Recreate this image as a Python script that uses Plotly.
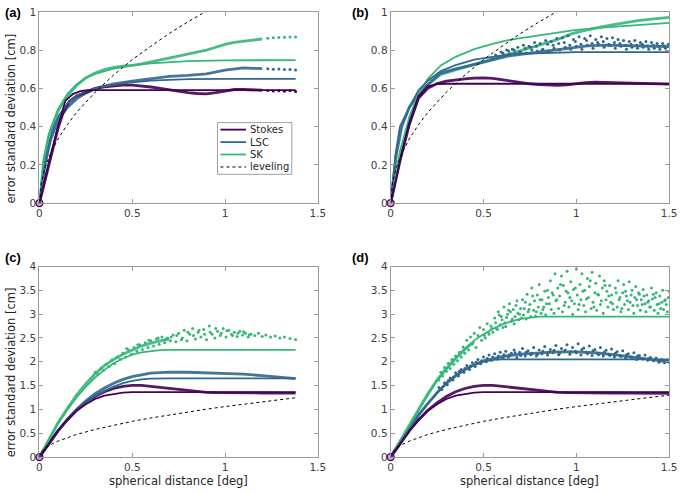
import plotly.graph_objects as go

# ---------------- tick labels / categories ----------------
x_ticks = [0, 0.5, 1, 1.5]
x_tick_labels = ["0", "0.5", "1", "1.5"]
y_ticks_top = [0, 0.2, 0.4, 0.6, 0.8, 1]
y_tick_labels_top = ["0", "0.2", "0.4", "0.6", "0.8", "1"]
y_ticks_bottom = [0, 0.5, 1, 1.5, 2, 2.5, 3, 3.5, 4]
y_tick_labels_bottom = ["0", "0.5", "1", "1.5", "2", "2.5", "3", "3.5", "4"]
methods = ["Stokes", "LSC", "SK"]
legend_labels = ["Stokes", "LSC", "SK", "leveling"]
panel_labels = ["(a)", "(b)", "(c)", "(d)"]
y_title = "error standard deviation [cm]"
x_title = "spherical distance [deg]"

# ---------------- leveling (dashed) ----------------
lev_x = [0, 0.01, 0.03, 0.06, 0.1, 0.15, 0.2, 0.3, 0.4, 0.5, 0.6, 0.7, 0.8, 0.9, 1.0, 1.1, 1.2, 1.3, 1.38, 1.5]
lev_y = [0, 0.106, 0.184, 0.26, 0.335, 0.41, 0.474, 0.58, 0.67, 0.75, 0.82, 0.887, 0.948, 1.006, 1.06, 1.112, 1.161, 1.209, 1.245, 1.298]

# ---------------- panel (a) ----------------
a_stokes_model_x = [0, 0.05, 0.1, 0.14, 0.18, 0.22, 0.26, 0.3, 0.6, 1.0, 1.38]
a_stokes_model_y = [0, 0.21, 0.40, 0.535, 0.57, 0.585, 0.59, 0.591, 0.591, 0.591, 0.591]
a_stokes_emp_x = [0, 0.05, 0.1, 0.13, 0.16, 0.2, 0.25, 0.3, 0.35, 0.4, 0.45, 0.5, 0.55, 0.6, 0.65, 0.7, 0.75, 0.8, 0.85, 0.9, 0.95, 1.0, 1.05, 1.1, 1.15, 1.2]
a_stokes_emp_y = [0, 0.2, 0.39, 0.48, 0.53, 0.56, 0.58, 0.6, 0.608, 0.613, 0.617, 0.617, 0.613, 0.607, 0.6, 0.592, 0.585, 0.578, 0.573, 0.571, 0.578, 0.588, 0.594, 0.594, 0.592, 0.59]
a_stokes_pts_x = [1.23, 1.26, 1.29, 1.32, 1.35, 1.38]
a_stokes_pts_y = [0.589, 0.586, 0.588, 0.585, 0.587, 0.584]

a_lsc_model_x = [0, 0.03, 0.07, 0.1, 0.15, 0.2, 0.25, 0.3, 0.4, 0.5, 0.6, 0.7, 0.8, 1.0, 1.38]
a_lsc_model_y = [0, 0.2, 0.38, 0.45, 0.52, 0.56, 0.585, 0.6, 0.62, 0.632, 0.64, 0.645, 0.648, 0.649, 0.649]
a_lsc_emp_x = [0, 0.03, 0.06, 0.1, 0.15, 0.2, 0.25, 0.3, 0.35, 0.4, 0.5, 0.6, 0.7, 0.8, 0.9, 1.0, 1.05, 1.1, 1.15, 1.2]
a_lsc_emp_y = [0, 0.2, 0.33, 0.43, 0.5, 0.545, 0.575, 0.598, 0.612, 0.623, 0.638, 0.652, 0.663, 0.668, 0.676, 0.695, 0.702, 0.707, 0.705, 0.703]
a_lsc_pts_x = [1.23, 1.26, 1.29, 1.32, 1.35, 1.38]
a_lsc_pts_y = [0.702, 0.700, 0.701, 0.699, 0.698, 0.696]

a_sk_model_x = [0, 0.02, 0.05, 0.1, 0.15, 0.2, 0.25, 0.3, 0.4, 0.5, 0.6, 0.7, 0.8, 1.0, 1.2, 1.38]
a_sk_model_y = [0, 0.22, 0.36, 0.49, 0.57, 0.62, 0.655, 0.675, 0.703, 0.72, 0.731, 0.738, 0.742, 0.746, 0.748, 0.748]
a_sk_emp_x = [0, 0.03, 0.06, 0.1, 0.15, 0.2, 0.25, 0.3, 0.35, 0.4, 0.45, 0.5, 0.55, 0.6, 0.65, 0.7, 0.75, 0.8, 0.85, 0.9, 0.95, 1.0, 1.05, 1.1, 1.15, 1.2]
a_sk_emp_y = [0, 0.25, 0.38, 0.48, 0.56, 0.615, 0.655, 0.68, 0.698, 0.71, 0.716, 0.72, 0.728, 0.738, 0.748, 0.758, 0.768, 0.778, 0.788, 0.8, 0.815, 0.83, 0.84, 0.848, 0.852, 0.858]
a_sk_pts_x = [1.23, 1.26, 1.29, 1.32, 1.35, 1.38]
a_sk_pts_y = [0.862, 0.865, 0.866, 0.867, 0.868, 0.869]

# ---------------- panel (b) ----------------
b_stokes_model_x = [0, 0.05, 0.1, 0.15, 0.2, 0.25, 0.3, 0.6, 1.0, 1.5]
b_stokes_model_y = [0, 0.22, 0.42, 0.56, 0.61, 0.622, 0.624, 0.624, 0.624, 0.624]
b_stokes_emp_x = [0, 0.05, 0.1, 0.15, 0.2, 0.25, 0.3, 0.35, 0.4, 0.45, 0.5, 0.55, 0.6, 0.65, 0.7, 0.75, 0.8, 0.85, 0.9, 0.95, 1.0, 1.05, 1.1, 1.15, 1.2, 1.3, 1.4, 1.5]
b_stokes_emp_y = [0, 0.22, 0.41, 0.55, 0.6, 0.625, 0.638, 0.645, 0.65, 0.654, 0.655, 0.652, 0.645, 0.638, 0.63, 0.624, 0.62, 0.617, 0.616, 0.618, 0.625, 0.63, 0.632, 0.632, 0.63, 0.627, 0.624, 0.622]
b_stokes_pts_x = []
b_stokes_pts_y = []

b_lsc_model_x = [0, 0.025, 0.05, 0.1, 0.15, 0.2, 0.27, 0.35, 0.45, 0.55, 0.62, 0.7, 0.8, 0.9, 1.0, 1.5]
b_lsc_model_y = [0, 0.25, 0.4, 0.5, 0.59, 0.64, 0.69, 0.722, 0.75, 0.767, 0.775, 0.781, 0.785, 0.788, 0.789, 0.789]
b_lsc_emp_x = [0, 0.03, 0.06, 0.1, 0.15, 0.2, 0.27, 0.35, 0.448, 0.55, 0.624, 0.7, 0.8, 0.9, 0.978, 1.06, 1.155, 1.25, 1.33, 1.42, 1.5]
b_lsc_emp_y = [0, 0.25, 0.4, 0.5, 0.57, 0.62, 0.68, 0.702, 0.724, 0.75, 0.767, 0.778, 0.79, 0.805, 0.815, 0.822, 0.826, 0.825, 0.822, 0.82, 0.818]
b_lsc_pts_x = [0.55, 0.565, 0.58, 0.595, 0.61, 0.625, 0.64, 0.655, 0.67, 0.685, 0.70, 0.715, 0.73, 0.745, 0.76, 0.775,
               0.79, 0.805, 0.82, 0.835, 0.85, 0.865, 0.88, 0.895, 0.91, 0.925, 0.94, 0.955, 0.97, 0.985, 1.00, 1.015,
               1.03, 1.045, 1.06, 1.075, 1.09, 1.105, 1.12, 1.135, 1.15, 1.165, 1.18, 1.195, 1.21, 1.225, 1.24, 1.255,
               1.27, 1.285, 1.30, 1.315, 1.33, 1.345, 1.36, 1.375, 1.39, 1.405, 1.42, 1.435, 1.45, 1.465, 1.48, 1.495,
               0.605, 0.635, 0.665, 0.695, 0.725, 0.755, 0.785, 0.815, 0.845, 0.875, 0.905, 0.935, 0.965, 0.995, 1.025,
               1.055, 1.085, 1.115, 1.145, 1.175, 1.205, 1.235, 1.265, 1.295, 1.325, 1.355, 1.385, 1.415, 1.445, 1.475]
b_lsc_pts_y = [0.755, 0.775, 0.765, 0.79, 0.77, 0.80, 0.78, 0.805, 0.785, 0.815, 0.79, 0.825, 0.785, 0.82, 0.80, 0.84,
               0.795, 0.835, 0.805, 0.85, 0.795, 0.845, 0.81, 0.86, 0.80, 0.865, 0.815, 0.875, 0.805, 0.855, 0.82, 0.87,
               0.805, 0.86, 0.825, 0.875, 0.81, 0.855, 0.83, 0.87, 0.815, 0.86, 0.825, 0.865, 0.81, 0.855, 0.82, 0.85,
               0.805, 0.845, 0.815, 0.85, 0.81, 0.84, 0.815, 0.845, 0.805, 0.84, 0.81, 0.835, 0.805, 0.835, 0.81, 0.83,
               0.785, 0.795, 0.80, 0.79, 0.81, 0.815, 0.82, 0.80, 0.83, 0.825, 0.835, 0.84, 0.825, 0.845, 0.83,
               0.85, 0.835, 0.84, 0.845, 0.83, 0.84, 0.835, 0.825, 0.83, 0.825, 0.83, 0.82, 0.825, 0.82, 0.822]

b_sk_model_x = [0, 0.05, 0.1, 0.15, 0.2, 0.27, 0.35, 0.45, 0.55, 0.62, 0.7, 0.8, 0.9, 0.98, 1.1, 1.2, 1.35, 1.5]
b_sk_model_y = [0, 0.27, 0.45, 0.57, 0.65, 0.72, 0.765, 0.805, 0.833, 0.85, 0.863, 0.877, 0.891, 0.903, 0.915, 0.922, 0.932, 0.942]
b_sk_emp_x = [0, 0.05, 0.1, 0.15, 0.2, 0.27, 0.35, 0.448, 0.55, 0.624, 0.7, 0.8, 0.9, 0.978, 1.06, 1.155, 1.25, 1.33, 1.42, 1.5]
b_sk_emp_y = [0, 0.24, 0.42, 0.55, 0.62, 0.673, 0.697, 0.724, 0.752, 0.775, 0.797, 0.826, 0.856, 0.886, 0.906, 0.925, 0.942, 0.954, 0.963, 0.971]
b_sk_pts_x = []
b_sk_pts_y = []

# ---------------- panel (c) ----------------
c_stokes_model_x = [0, 0.05, 0.1, 0.15, 0.2, 0.25, 0.3, 0.35, 0.4, 0.45, 0.5, 0.7, 1.0, 1.38]
c_stokes_model_y = [0, 0.28, 0.55, 0.78, 0.97, 1.11, 1.22, 1.29, 1.33, 1.355, 1.362, 1.363, 1.363, 1.363]
c_stokes_emp_x = [0, 0.05, 0.1, 0.15, 0.2, 0.25, 0.3, 0.35, 0.4, 0.45, 0.5, 0.55, 0.6, 0.65, 0.7, 0.75, 0.8, 0.85, 0.9, 0.95, 1.0, 1.1, 1.2, 1.3, 1.38]
c_stokes_emp_y = [0, 0.28, 0.55, 0.78, 0.98, 1.14, 1.27, 1.37, 1.44, 1.485, 1.505, 1.505, 1.485, 1.46, 1.43, 1.41, 1.39, 1.37, 1.36, 1.352, 1.348, 1.345, 1.345, 1.344, 1.342]
c_stokes_pts_x = []
c_stokes_pts_y = []

c_lsc_model_x = [0, 0.05, 0.1, 0.15, 0.2, 0.25, 0.3, 0.35, 0.4, 0.45, 0.5, 0.55, 0.6, 0.7, 1.0, 1.38]
c_lsc_model_y = [0, 0.28, 0.55, 0.78, 0.98, 1.14, 1.28, 1.39, 1.48, 1.55, 1.6, 1.63, 1.645, 1.65, 1.65, 1.65]
c_lsc_emp_x = [0, 0.05, 0.1, 0.15, 0.2, 0.25, 0.3, 0.35, 0.4, 0.45, 0.5, 0.6, 0.7, 0.8, 0.9, 1.0, 1.1, 1.2, 1.3, 1.38]
c_lsc_emp_y = [0, 0.28, 0.55, 0.79, 1.0, 1.18, 1.33, 1.45, 1.55, 1.63, 1.69, 1.76, 1.785, 1.78, 1.77, 1.755, 1.74, 1.71, 1.675, 1.645]
c_lsc_pts_x = []
c_lsc_pts_y = []

c_sk_model_x = [0, 0.05, 0.1, 0.15, 0.2, 0.25, 0.3, 0.35, 0.4, 0.45, 0.5, 0.55, 0.6, 0.65, 0.7, 1.0, 1.38]
c_sk_model_y = [0, 0.36, 0.7, 0.99, 1.25, 1.48, 1.67, 1.83, 1.97, 2.07, 2.15, 2.2, 2.23, 2.245, 2.25, 2.25, 2.25]
c_sk_emp_x = [0, 0.05, 0.1, 0.15, 0.2, 0.25, 0.3, 0.35, 0.4, 0.45, 0.5, 0.55, 0.6, 0.65, 0.7]
c_sk_emp_y = [0, 0.37, 0.72, 1.02, 1.3, 1.54, 1.75, 1.92, 2.05, 2.16, 2.25, 2.33, 2.39, 2.44, 2.48]
c_sk_pts_x = [0.30, 0.315, 0.33, 0.345, 0.36, 0.375, 0.39, 0.405, 0.42, 0.435, 0.45, 0.465, 0.48, 0.495, 0.51, 0.525,
              0.54, 0.555, 0.57, 0.585, 0.60, 0.615, 0.63, 0.645, 0.66, 0.675, 0.69, 0.705, 0.72, 0.735, 0.75, 0.765,
              0.78, 0.795, 0.81, 0.825, 0.84, 0.855, 0.87, 0.885, 0.90, 0.915, 0.93, 0.945, 0.96, 0.975, 0.99, 1.005,
              1.02, 1.035, 1.05, 1.065, 1.08, 1.095, 1.11, 1.125, 1.14, 1.16, 1.18, 1.20, 1.22, 1.245, 1.27, 1.295,
              1.32, 1.35, 1.38,
              0.47, 0.53, 0.59, 0.64, 0.68, 0.71, 0.74, 0.77, 0.80, 0.83, 0.86, 0.89, 0.92, 0.95, 0.98, 1.01,
              1.04, 1.07, 1.10, 1.13]
c_sk_pts_y = [1.78, 1.74, 1.86, 1.82, 1.95, 1.90, 2.04, 1.96, 2.10, 2.05, 2.18, 2.10, 2.25, 2.16, 2.30, 2.22,
              2.36, 2.26, 2.40, 2.30, 2.44, 2.33, 2.48, 2.37, 2.52, 2.40, 2.50, 2.44, 2.56, 2.42, 2.60, 2.46,
              2.66, 2.44, 2.58, 2.70, 2.48, 2.62, 2.52, 2.68, 2.46, 2.75, 2.58, 2.50, 2.64, 2.55, 2.70, 2.52,
              2.66, 2.58, 2.62, 2.53, 2.64, 2.56, 2.60, 2.52, 2.58, 2.55, 2.60, 2.53, 2.56, 2.52, 2.54, 2.50,
              2.52, 2.49, 2.47,
              2.28, 2.36, 2.45, 2.50, 2.47, 2.52, 2.55, 2.50, 2.62, 2.55, 2.66, 2.58, 2.62, 2.70, 2.60, 2.65,
              2.55, 2.60, 2.63, 2.57]

# ---------------- panel (d) ----------------
d_stokes_model_x = [0, 0.05, 0.1, 0.15, 0.2, 0.25, 0.3, 0.35, 0.4, 0.45, 0.5, 0.7, 1.0, 1.5]
d_stokes_model_y = [0, 0.28, 0.55, 0.78, 0.97, 1.11, 1.22, 1.29, 1.33, 1.355, 1.362, 1.363, 1.363, 1.363]
d_stokes_emp_x = [0, 0.05, 0.1, 0.15, 0.2, 0.25, 0.3, 0.35, 0.4, 0.45, 0.5, 0.55, 0.6, 0.65, 0.7, 0.75, 0.8, 0.85, 0.9, 0.95, 1.0, 1.1, 1.2, 1.3, 1.4, 1.5]
d_stokes_emp_y = [0, 0.28, 0.55, 0.78, 0.98, 1.14, 1.27, 1.37, 1.44, 1.485, 1.505, 1.505, 1.485, 1.46, 1.43, 1.41, 1.39, 1.37, 1.36, 1.352, 1.348, 1.345, 1.345, 1.344, 1.342, 1.34]
d_stokes_pts_x = []
d_stokes_pts_y = []

d_lsc_model_x = [0, 0.05, 0.1, 0.15, 0.2, 0.25, 0.3, 0.35, 0.4, 0.45, 0.5, 0.55, 0.6, 1.0, 1.5]
d_lsc_model_y = [0, 0.3, 0.6, 0.88, 1.13, 1.35, 1.54, 1.7, 1.83, 1.93, 2.0, 2.04, 2.05, 2.05, 2.05]
d_lsc_emp_x = [0, 0.05, 0.1, 0.15, 0.2, 0.25, 0.3, 0.35, 0.4, 0.45, 0.5, 0.6, 0.7, 0.8, 0.9, 1.0, 1.1, 1.2, 1.3, 1.4, 1.5]
d_lsc_emp_y = [0, 0.3, 0.6, 0.88, 1.12, 1.35, 1.55, 1.71, 1.84, 1.94, 2.02, 2.11, 2.16, 2.19, 2.21, 2.21, 2.19, 2.15, 2.1, 2.05, 2.0]
d_lsc_pts_x = [0.26, 0.275, 0.29, 0.305, 0.32, 0.335, 0.35, 0.365, 0.38, 0.395, 0.41, 0.425, 0.44, 0.455, 0.47, 0.485,
               0.50, 0.515, 0.53, 0.545, 0.56, 0.575, 0.59, 0.605, 0.62, 0.635, 0.65, 0.665, 0.68, 0.695, 0.71, 0.725,
               0.74, 0.755, 0.77, 0.785, 0.80, 0.815, 0.83, 0.845, 0.86, 0.875, 0.89, 0.905, 0.92, 0.935, 0.95, 0.965,
               0.98, 0.995, 1.01, 1.025, 1.04, 1.055, 1.07, 1.085, 1.10, 1.115, 1.13, 1.145, 1.16, 1.175, 1.19, 1.205,
               1.22, 1.235, 1.25, 1.265, 1.28, 1.295, 1.31, 1.325, 1.34, 1.355, 1.37, 1.385, 1.40, 1.415, 1.43, 1.445,
               1.46, 1.475, 1.49, 1.50,
               0.31, 0.34, 0.37, 0.40, 0.43, 0.46, 0.49, 0.52, 0.55, 0.58, 0.61, 0.64, 0.67, 0.70, 0.73, 0.76,
               0.79, 0.82, 0.85, 0.88, 0.91, 0.94, 0.97, 1.00, 1.03, 1.06, 1.09, 1.12, 1.15, 1.18, 1.21, 1.24,
               1.27, 1.30, 1.33, 1.36, 1.39, 1.42, 1.45, 1.48]
d_lsc_pts_y = [1.46, 1.42, 1.56, 1.52, 1.66, 1.62, 1.77, 1.70, 1.84, 1.78, 1.92, 1.84, 1.98, 1.90, 2.05, 1.96,
               2.10, 2.00, 2.14, 2.03, 2.17, 2.06, 2.20, 2.08, 2.22, 2.10, 2.18, 2.25, 2.09, 2.20, 2.28, 2.12,
               2.23, 2.15, 2.30, 2.12, 2.25, 2.17, 2.32, 2.14, 2.26, 2.19, 2.34, 2.15, 2.28, 2.21, 2.36, 2.16,
               2.30, 2.22, 2.38, 2.14, 2.29, 2.20, 2.33, 2.13, 2.26, 2.18, 2.30, 2.12, 2.24, 2.16, 2.27, 2.10,
               2.21, 2.13, 2.23, 2.08, 2.17, 2.10, 2.19, 2.05, 2.13, 2.07, 2.14, 2.03, 2.09, 2.02, 2.08, 1.99,
               2.05, 1.98, 2.03, 1.99,
               1.60, 1.68, 1.80, 1.86, 1.91, 1.99, 2.02, 2.07, 2.10, 2.12, 2.15, 2.14, 2.19, 2.13, 2.20, 2.18,
               2.16, 2.22, 2.20, 2.24, 2.18, 2.25, 2.21, 2.19, 2.26, 2.17, 2.23, 2.15, 2.20, 2.13, 2.18, 2.11,
               2.15, 2.08, 2.12, 2.06, 2.07, 2.04, 2.02, 2.01]

d_sk_model_x = [0, 0.05, 0.1, 0.15, 0.2, 0.25, 0.3, 0.35, 0.4, 0.45, 0.5, 0.55, 0.6, 0.65, 0.7, 0.75, 0.8, 1.0, 1.5]
d_sk_model_y = [0, 0.33, 0.66, 0.98, 1.3, 1.6, 1.85, 2.08, 2.28, 2.45, 2.58, 2.69, 2.78, 2.85, 2.9, 2.93, 2.95, 2.95, 2.95]
d_sk_emp_x = [0, 0.05, 0.1, 0.15, 0.2, 0.25, 0.3, 0.35, 0.4, 0.45]
d_sk_emp_y = [0, 0.34, 0.68, 1.01, 1.33, 1.62, 1.86, 2.07, 2.26, 2.42]
d_sk_pts_x = [0.26, 0.27, 0.28, 0.29, 0.30, 0.31, 0.32, 0.33, 0.34, 0.35, 0.36, 0.37, 0.38, 0.39, 0.40,
              0.41, 0.42, 0.43, 0.44, 0.45, 0.46, 0.47, 0.48, 0.49, 0.50, 0.51, 0.52, 0.53, 0.54, 0.55,
              0.56, 0.57, 0.58, 0.59, 0.60, 0.61, 0.62, 0.63, 0.64, 0.65, 0.66, 0.67, 0.68, 0.69, 0.70,
              0.565, 0.585, 0.605, 0.625, 0.645, 0.665, 0.685,
              0.71, 0.715, 0.72, 0.73, 0.735, 0.74, 0.75, 0.755, 0.76, 0.77, 0.775, 0.78, 0.79, 0.795, 0.80, 0.81,
              0.815, 0.82, 0.83, 0.835, 0.84, 0.85,
              0.86, 0.865, 0.87, 0.88, 0.885, 0.89, 0.90, 0.905, 0.91, 0.92, 0.925, 0.93, 0.94, 0.945, 0.95, 0.96,
              0.965, 0.97, 0.98, 0.985, 0.99, 1.00, 1.005, 1.01, 1.02, 1.025, 1.03, 1.04, 1.045, 1.05, 1.06, 1.065,
              1.07, 1.08, 1.085, 1.09, 1.10, 1.105, 1.11, 1.12, 1.125, 1.13, 1.14, 1.145, 1.15, 1.16, 1.165, 1.17,
              1.18, 1.185, 1.19, 1.20,
              1.21, 1.22, 1.225, 1.23, 1.24, 1.25, 1.255, 1.26, 1.27, 1.28, 1.285, 1.29, 1.30, 1.31, 1.315, 1.32,
              1.33, 1.34, 1.345, 1.35, 1.36, 1.37, 1.375, 1.38, 1.39, 1.40, 1.405, 1.41, 1.42, 1.43, 1.435, 1.44,
              1.45, 1.46, 1.465, 1.47, 1.48, 1.49, 1.495, 1.50,
              0.505, 0.525, 0.545, 0.575, 0.595, 0.615, 0.635, 0.655, 0.675, 0.695, 0.705, 0.725, 0.745, 0.765,
              0.785, 0.805, 0.825, 0.845, 0.855, 0.875, 0.895, 0.915, 0.935, 0.955, 0.975, 0.995, 1.015, 1.035,
              1.055, 1.075, 1.095, 1.115, 1.135, 1.155, 1.175, 1.195, 1.215, 1.235, 1.245, 1.265, 1.275, 1.295,
              1.305, 1.325, 1.335, 1.355, 1.365, 1.385, 1.395, 1.415, 1.425, 1.445, 1.455, 1.475, 1.485]
d_sk_pts_y = [1.62, 1.78, 1.70, 1.88, 1.80, 1.97, 1.86, 2.05, 1.95, 2.12, 2.02, 2.20, 2.10, 2.31, 2.18,
              2.45, 2.25, 2.52, 2.38, 2.60, 2.30, 2.55, 2.72, 2.45, 2.68, 2.50, 2.80, 2.58, 2.75, 2.62,
              2.92, 2.70, 3.05, 2.78, 2.88, 3.15, 2.74, 3.00, 3.22, 2.85, 3.10, 2.95, 3.28, 2.88, 3.12,
              2.82, 2.98, 2.72, 2.93, 3.05, 2.80, 3.02,
              3.30, 2.98, 3.12, 2.90, 3.42, 3.05, 3.20, 2.95, 3.55, 3.08, 3.28, 2.96, 3.40, 3.15, 3.62, 3.02,
              3.30, 3.10, 3.48, 2.99, 3.22, 3.35,
              3.70, 3.10, 3.45, 3.02, 3.85, 3.28, 3.55, 3.12, 3.38, 3.80, 3.05, 3.60, 3.25, 3.48, 3.90, 3.15,
              3.35, 3.68, 3.00, 3.52, 3.22, 3.95, 3.40, 3.10, 3.62, 3.30, 3.85, 3.18, 3.50, 3.05, 3.75, 3.35,
              3.58, 3.12, 3.88, 3.25, 3.45, 3.65, 3.08, 3.40, 3.80, 3.20, 3.55, 3.02, 3.70, 3.30, 3.48, 3.15,
              3.60, 3.25, 3.40, 3.10,
              3.55, 3.15, 3.70, 3.30, 3.05, 3.45, 3.62, 3.20, 3.38, 3.10, 3.68, 3.25, 3.50, 3.02, 3.35, 3.58,
              3.18, 3.42, 3.08, 3.30, 3.52, 3.22, 3.05, 3.40, 3.28, 3.15, 3.55, 3.32, 3.08, 3.45, 3.20, 3.02,
              3.38, 3.25, 3.50, 3.10, 3.30, 3.05, 3.35, 3.48,
              2.55, 2.62, 2.70, 2.68, 2.95, 2.82, 3.08, 2.90, 3.18, 3.00, 2.92, 3.25, 3.10, 3.38,
              3.05, 3.30, 3.15, 3.50, 3.22, 3.40, 3.30, 3.62, 3.18, 3.45, 3.28, 3.55, 3.20, 3.48,
              3.32, 3.70, 3.15, 3.42, 3.28, 3.60, 3.38, 3.22, 3.45, 3.35, 3.12, 3.48, 3.28, 3.40,
              3.18, 3.30, 3.45, 3.20, 3.38, 3.25, 3.15, 3.42, 3.35, 3.22, 3.12, 3.28, 3.20]

# ---------------- styling ----------------
COLORS = {"Stokes": "#440154", "LSC": "#31688e", "SK": "#35b779"}
TICK_FONT = dict(family="DejaVu Sans", size=10.5, color="#404040")
TITLE_FONT = dict(family="DejaVu Sans", size=11.5, color="#262626")
AXIS_COLOR = "#9a9a9a"

W, H = 685, 494
def px(x):
    return x / W
def py(y):
    return 1 - y / H

panels = [
    dict(key="a", xa="x", ya="y", xmax=1.38, yt=(y_ticks_top, y_tick_labels_top), yr=[0, 1],
         xd=[px(37), px(320)], yd=[py(202), py(6)],
         series={"Stokes": (a_stokes_model_x, a_stokes_model_y, a_stokes_emp_x, a_stokes_emp_y, a_stokes_pts_x, a_stokes_pts_y),
                 "LSC": (a_lsc_model_x, a_lsc_model_y, a_lsc_emp_x, a_lsc_emp_y, a_lsc_pts_x, a_lsc_pts_y),
                 "SK": (a_sk_model_x, a_sk_model_y, a_sk_emp_x, a_sk_emp_y, a_sk_pts_x, a_sk_pts_y)}),
    dict(key="b", xa="x2", ya="y2", xmax=1.5, yt=(y_ticks_top, y_tick_labels_top), yr=[0, 1],
         xd=[px(394), px(677)], yd=[py(202), py(6)],
         series={"Stokes": (b_stokes_model_x, b_stokes_model_y, b_stokes_emp_x, b_stokes_emp_y, b_stokes_pts_x, b_stokes_pts_y),
                 "LSC": (b_lsc_model_x, b_lsc_model_y, b_lsc_emp_x, b_lsc_emp_y, b_lsc_pts_x, b_lsc_pts_y),
                 "SK": (b_sk_model_x, b_sk_model_y, b_sk_emp_x, b_sk_emp_y, b_sk_pts_x, b_sk_pts_y)}),
    dict(key="c", xa="x3", ya="y3", xmax=1.38, yt=(y_ticks_bottom, y_tick_labels_bottom), yr=[0, 4],
         xd=[px(37), px(320)], yd=[py(462.3), py(267)],
         series={"Stokes": (c_stokes_model_x, c_stokes_model_y, c_stokes_emp_x, c_stokes_emp_y, c_stokes_pts_x, c_stokes_pts_y),
                 "LSC": (c_lsc_model_x, c_lsc_model_y, c_lsc_emp_x, c_lsc_emp_y, c_lsc_pts_x, c_lsc_pts_y),
                 "SK": (c_sk_model_x, c_sk_model_y, c_sk_emp_x, c_sk_emp_y, c_sk_pts_x, c_sk_pts_y)}),
    dict(key="d", xa="x4", ya="y4", xmax=1.5, yt=(y_ticks_bottom, y_tick_labels_bottom), yr=[0, 4],
         xd=[px(394), px(677)], yd=[py(462.3), py(267)],
         series={"Stokes": (d_stokes_model_x, d_stokes_model_y, d_stokes_emp_x, d_stokes_emp_y, d_stokes_pts_x, d_stokes_pts_y),
                 "LSC": (d_lsc_model_x, d_lsc_model_y, d_lsc_emp_x, d_lsc_emp_y, d_lsc_pts_x, d_lsc_pts_y),
                 "SK": (d_sk_model_x, d_sk_model_y, d_sk_emp_x, d_sk_emp_y, d_sk_pts_x, d_sk_pts_y)}),
]

fig = go.Figure()

for p in panels:
    # empirical (dense dots -> band + scattered dots)
    for m in ["SK", "LSC", "Stokes"]:
        mx, my, ex, ey, sx, sy = p["series"][m]
        fig.add_trace(go.Scatter(x=ex, y=ey, mode="lines", xaxis=p["xa"], yaxis=p["ya"],
                                 line=dict(color=COLORS[m], width=2.8), opacity=0.9,
                                 showlegend=False, hoverinfo="skip"))
        if sx:
            fig.add_trace(go.Scatter(x=sx, y=sy, mode="markers", xaxis=p["xa"], yaxis=p["ya"],
                                     marker=dict(color=COLORS[m], size=3, line=dict(width=0)),
                                     showlegend=False, hoverinfo="skip"))
    # model curves
    for m in ["SK", "LSC", "Stokes"]:
        mx, my, ex, ey, sx, sy = p["series"][m]
        fig.add_trace(go.Scatter(x=mx, y=my, mode="lines", xaxis=p["xa"], yaxis=p["ya"],
                                 line=dict(color=COLORS[m], width=1.8), name=m,
                                 showlegend=False, hoverinfo="skip"))
    # leveling
    lx = [v for v in lev_x if v <= p["xmax"]]
    ly = lev_y[:len(lx)]
    fig.add_trace(go.Scatter(x=lx, y=ly, mode="lines", xaxis=p["xa"], yaxis=p["ya"],
                             line=dict(color="black", width=1, dash="3px,3px"), name="leveling",
                             showlegend=False, hoverinfo="skip"))
    # origin marker
    fig.add_trace(go.Scatter(x=[0], y=[0], mode="markers", xaxis=p["xa"], yaxis=p["ya"], cliponaxis=False,
                             marker=dict(color="rgba(120,60,140,0.45)", size=7,
                                         line=dict(color=COLORS["Stokes"], width=1.3)),
                             showlegend=False, hoverinfo="skip"))

layout = dict(width=W, height=H, margin=dict(l=0, r=0, t=0, b=0),
              paper_bgcolor="white", plot_bgcolor="white", showlegend=False)

for p in panels:
    xk = "xaxis" + p["xa"][1:]
    yk = "yaxis" + p["ya"][1:]
    layout[xk] = dict(domain=p["xd"], anchor=p["ya"], range=[0, 1.5], tickvals=x_ticks, ticktext=x_tick_labels,
                      showline=True, linecolor=AXIS_COLOR, linewidth=1, mirror="ticks", ticks="inside", ticklen=4,
                      tickcolor=AXIS_COLOR, tickfont=TICK_FONT, showgrid=False, zeroline=False, fixedrange=True,
                      ticklabeloverflow="allow")
    layout[yk] = dict(domain=p["yd"], anchor=p["xa"], range=p["yr"], tickvals=p["yt"][0], ticktext=p["yt"][1],
                      showline=True, linecolor=AXIS_COLOR, linewidth=1, mirror="ticks", ticks="inside", ticklen=4,
                      tickcolor=AXIS_COLOR, tickfont=TICK_FONT, showgrid=False, zeroline=False, fixedrange=True,
                      ticklabeloverflow="allow")

fig.update_layout(**layout)

annotations = []
# panel labels
label_pos = [(0, 7), (353, 7), (0, 258), (353, 258)]
for lab, (lx0, ly0) in zip(panel_labels, label_pos):
    annotations.append(dict(text="<b>%s</b>" % lab, x=px(lx0), y=py(ly0), xref="paper", yref="paper",
                            xanchor="left", yanchor="middle", showarrow=False,
                            font=dict(family="Liberation Sans", size=13, color="black")))
# axis titles
for yc in [115, 375]:
    annotations.append(dict(text=y_title, x=px(8.5), y=py(yc), xref="paper", yref="paper", textangle=-90,
                            xanchor="center", yanchor="middle", showarrow=False, font=TITLE_FONT))
for xc in [178.5, 535.5]:
    annotations.append(dict(text=x_title, x=px(xc), y=py(486.5), xref="paper", yref="paper",
                            xanchor="center", yanchor="middle", showarrow=False, font=TITLE_FONT))

# legend (panel a)
shapes = [dict(type="rect", xref="paper", yref="paper", x0=px(218), x1=px(293.5), y0=py(172.5), y1=py(119.5),
               line=dict(color="#a0a0a0", width=1), fillcolor="white", layer="above")]
leg_rows = [126.7, 139.5, 152.2, 165]
leg_colors = [COLORS["Stokes"], COLORS["LSC"], COLORS["SK"], "black"]
for lab, yy, col in zip(legend_labels, leg_rows, leg_colors):
    dash = "3px,3px" if lab == "leveling" else "solid"
    width = 1 if lab == "leveling" else 1.8
    shapes.append(dict(type="line", xref="paper", yref="paper", x0=px(221), x1=px(247), y0=py(yy), y1=py(yy),
                       line=dict(color=col, width=width, dash=dash), layer="above"))
    annotations.append(dict(text=lab, x=px(249), y=py(yy), xref="paper", yref="paper",
                            xanchor="left", yanchor="middle", showarrow=False,
                            font=dict(family="DejaVu Sans", size=10, color="#262626")))

fig.update_layout(annotations=annotations, shapes=shapes)
fig.write_html("out.html", config={"displayModeBar": False},
               post_script="document.body.style.margin='0';document.body.style.overflow='hidden';")
